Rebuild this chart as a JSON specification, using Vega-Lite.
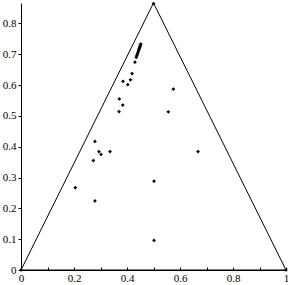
{
  "$schema": "https://vega.github.io/schema/vega-lite/v6.json",
  "width": 265,
  "height": 267,
  "autosize": "none",
  "padding": {"left": 21, "top": 3, "right": 2, "bottom": 15},
  "config": {
    "view": {"stroke": null},
    "axis": {"labelFont": "Liberation Serif", "labelFontSize": 11, "labelColor": "#000", "domainColor": "#000", "tickColor": "#000", "grid": false, "title": null, "labelOverlap": false}
  },
  "datasets": {
    "tri": [
      {"x": 0, "y": 0, "o": 1},
      {"x": 0.5, "y": 0.866, "o": 2},
      {"x": 1, "y": 0, "o": 3},
      {"x": 0, "y": 0, "o": 4}
    ],
    "pts": [
      {"x": 0, "y": 0},
      {"x": 1, "y": 0},
      {"x": 0.5, "y": 0.864},
      {"x": 0.279, "y": 0.417},
      {"x": 0.370, "y": 0.514},
      {"x": 0.384, "y": 0.535},
      {"x": 0.371, "y": 0.555},
      {"x": 0.385, "y": 0.612},
      {"x": 0.403, "y": 0.601},
      {"x": 0.413, "y": 0.617},
      {"x": 0.419, "y": 0.637},
      {"x": 0.430, "y": 0.674},
      {"x": 0.435, "y": 0.690},
      {"x": 0.437, "y": 0.695},
      {"x": 0.439, "y": 0.700},
      {"x": 0.441, "y": 0.705},
      {"x": 0.443, "y": 0.710},
      {"x": 0.445, "y": 0.714},
      {"x": 0.446, "y": 0.718},
      {"x": 0.448, "y": 0.722},
      {"x": 0.449, "y": 0.725},
      {"x": 0.450, "y": 0.728},
      {"x": 0.451, "y": 0.731},
      {"x": 0.452, "y": 0.733},
      {"x": 0.575, "y": 0.587},
      {"x": 0.556, "y": 0.513},
      {"x": 0.294, "y": 0.384},
      {"x": 0.302, "y": 0.375},
      {"x": 0.273, "y": 0.355},
      {"x": 0.336, "y": 0.384},
      {"x": 0.205, "y": 0.267},
      {"x": 0.279, "y": 0.224},
      {"x": 0.668, "y": 0.384},
      {"x": 0.502, "y": 0.288},
      {"x": 0.502, "y": 0.096}
    ]
  },
  "encoding": {
    "x": {"field": "x", "type": "quantitative", "scale": {"domain": [0, 1], "nice": false},
          "axis": {"values": [0, 0.1, 0.2, 0.3, 0.4, 0.5, 0.6, 0.7, 0.8, 0.9, 1], "labelExpr": "(round(datum.value*10)%2==0) ? format(datum.value, '~g') : ''", "tickSize": -3, "labelPadding": 5, "labelFlush": false}},
    "y": {"field": "y", "type": "quantitative", "scale": {"domain": [0, 0.866], "nice": false, "zero": true},
          "axis": {"values": [0, 0.1, 0.2, 0.3, 0.4, 0.5, 0.6, 0.7, 0.8], "format": "~g", "tickSize": 3, "labelPadding": 2, "labelFlush": false}}
  },
  "layer": [
    {
      "data": {"name": "tri"},
      "mark": {"type": "line", "color": "#000", "strokeWidth": 1},
      "encoding": {
        "order": {"field": "o", "type": "quantitative"}
      }
    },
    {
      "data": {"name": "pts"},
      "mark": {"type": "point", "shape": "diamond", "filled": true, "color": "#000", "size": 14, "opacity": 1}
    }
  ]
}
